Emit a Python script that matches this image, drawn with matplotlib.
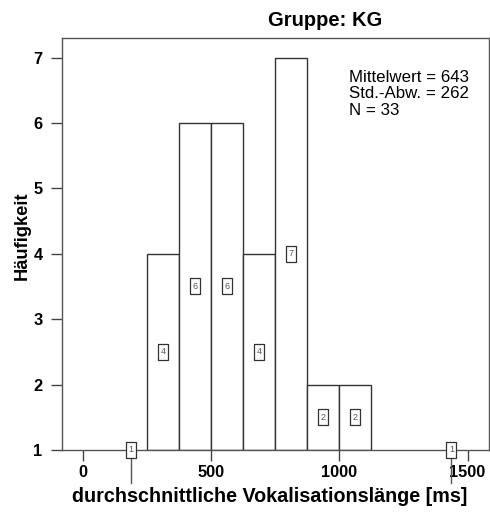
import numpy as np
import matplotlib
matplotlib.use('Agg')
from matplotlib import pyplot as plt

# Histogram data (SPSS style, baseline at 1)
bin_edges = [125, 250, 375, 500, 625, 750, 875, 1000, 1125, 1250, 1375, 1500]
counts = [1, 4, 6, 6, 4, 7, 2, 2, 0, 0, 1]
x_ticks = [0, 500, 1000, 1500]
y_ticks = [1, 2, 3, 4, 5, 6, 7]
stats_text = "Mittelwert = 643\nStd.-Abw. = 262\nN = 33"

plt.rcParams['font.family'] = ['Liberation Sans', 'DejaVu Sans']

fig = plt.figure(figsize=(4.9, 5.19), dpi=100)
ax = fig.add_axes([0.1265, 0.133, 0.8715, 0.794])

# tall rectangle marker for the count labels
box = [(-0.59, -1.0), (0.59, -1.0), (0.59, 1.0), (-0.59, 1.0), (-0.59, -1.0)]

base = 1
edges = np.array(bin_edges, dtype=float)
widths = np.diff(edges)
centers = edges[:-1] + widths / 2
for c, w, n in zip(centers, widths, counts):
    if n == 0:
        continue
    if n > base:
        ax.bar(c, n - base, width=w, bottom=base, facecolor='white',
               edgecolor='#333333', linewidth=1.0, zorder=2)
        ylab = base + (n - base) / 2.0
    else:
        # zero-height bar, drawn as a short stub below the baseline
        ax.plot([c, c], [0.5, base], color='#555555', lw=1.0,
                clip_on=False, zorder=3)
        ylab = base
    ax.plot([c], [ylab], marker=box, markersize=12, markerfacecolor='white',
            markeredgecolor='#333333', markeredgewidth=0.9, clip_on=False,
            zorder=4)
    ax.text(c, ylab, str(n), ha='center', va='center', fontsize=6.5,
            color='#555555', zorder=5)

ax.set_xlim(-83, 1584)
ax.set_ylim(1, 7.3)
ax.set_xticks(x_ticks)
ax.set_yticks(y_ticks)
ax.tick_params(direction='out', length=8, width=1, color='#444444',
               labelsize=11.8)
ax.tick_params(axis='x', pad=3)
ax.tick_params(axis='y', pad=6)
for lbl in ax.get_xticklabels() + ax.get_yticklabels():
    lbl.set_fontweight('bold')
for s in ax.spines.values():
    s.set_color('#555555')
    s.set_linewidth(1.0)

ax.text(0.671, 0.922, stats_text, transform=ax.transAxes, ha='left', va='top',
        fontsize=12.2, linespacing=1.12)

fig.text(325 / 490., 1 - 21 / 519., 'Gruppe: KG', ha='center', va='center',
         fontsize=14.5, fontweight='bold')
fig.text(270 / 490., 1 - 496 / 519., 'durchschnittliche Vokalisationslänge [ms]',
         ha='center', va='center', fontsize=14.2, fontweight='bold')
fig.text(22 / 490., 1 - 236 / 519., 'Häufigkeit', ha='center', va='center',
         rotation=90, fontsize=13.2, fontweight='bold')

fig.savefig('out.png', dpi=100)
